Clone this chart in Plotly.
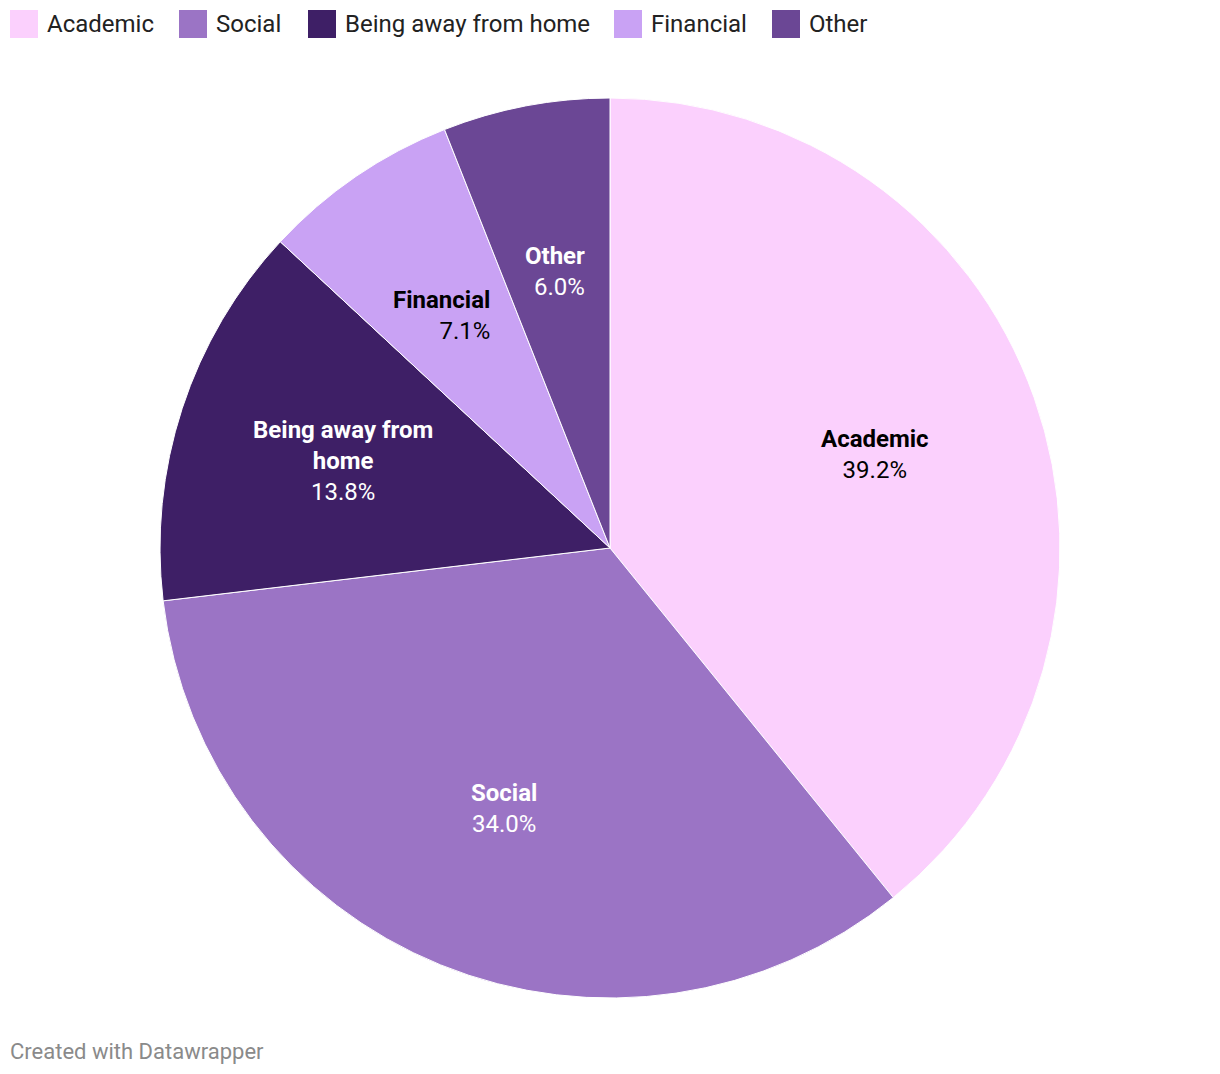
import math
import plotly.graph_objects as go

# ---- data ----
categories = ["Academic", "Social", "Being away from home", "Financial", "Other"]
values = [39.2, 34.0, 13.8, 7.1, 6.0]
label_lines = ["Academic", "Social", "Being away from<br>home", "Financial", "Other"]

# ---- style ----
colors = ["#fbd0fd", "#9b74c5", "#3e1f66", "#c9a2f4", "#6b4795"]
label_colors = ["#000000", "#ffffff", "#ffffff", "#000000", "#ffffff"]
label_align = ["center", "center", "center", "right", "right"]
label_xshift = [0, 0, 0, -10, -2]
FONT = "Roboto"

W, H = 1220, 1074
CX, CY, R = 610, 548, 450  # pie centre / radius in pixels
LABEL_R = 0.625

fig = go.Figure()
fig.add_trace(go.Pie(
    labels=categories,
    values=values,
    marker=dict(colors=colors, line=dict(color="#ffffff", width=1)),
    sort=False,
    direction="clockwise",
    rotation=0,
    textinfo="none",
    hoverinfo="label+value",
    showlegend=False,
    domain=dict(x=[(CX - R) / W, (CX + R) / W], y=[1 - (CY + R) / H, 1 - (CY - R) / H]),
))

annotations = []
total = sum(values)
cum = 0.0
for lab, v, tc, al, xs in zip(label_lines, values, label_colors, label_align, label_xshift):
    mid = (cum + v / 2) / total * 2 * math.pi
    cum += v
    px = CX + LABEL_R * R * math.sin(mid)
    py = CY - LABEL_R * R * math.cos(mid)
    annotations.append(dict(
        x=px / W, y=1 - py / H, xref="paper", yref="paper", xshift=xs,
        text=f"<b>{lab}</b><br>{v:.1f}%",
        showarrow=False, xanchor="center", yanchor="middle", align=al,
        font=dict(family=FONT, size=24, color=tc),
    ))

# manual legend
LEGEND_X = [10, 179, 308, 614, 772]
SQ = 28
shapes = []
for lx, cat, col in zip(LEGEND_X, categories, colors):
    shapes.append(dict(type="rect", xref="paper", yref="paper",
                       x0=lx / W, x1=(lx + SQ) / W, y0=1 - 38 / H, y1=1 - 10 / H,
                       fillcolor=col, line=dict(width=0)))
    annotations.append(dict(x=(lx + SQ + 7) / W, y=1 - 24 / H, xref="paper", yref="paper",
                            text=cat, showarrow=False, xanchor="left", yanchor="middle",
                            font=dict(family=FONT, size=24, color="#222222")))

annotations.append(dict(x=8 / W, y=1 - 1051 / H, xref="paper", yref="paper",
                        text="Created with Datawrapper", showarrow=False,
                        xanchor="left", yanchor="middle",
                        font=dict(family=FONT, size=22, color="#8a8a8a")))

fig.update_layout(
    width=W, height=H,
    margin=dict(l=0, r=0, t=0, b=0),
    paper_bgcolor="#ffffff", plot_bgcolor="#ffffff",
    annotations=annotations, shapes=shapes,
    font=dict(family=FONT),
)

fig.write_html("out.html")
